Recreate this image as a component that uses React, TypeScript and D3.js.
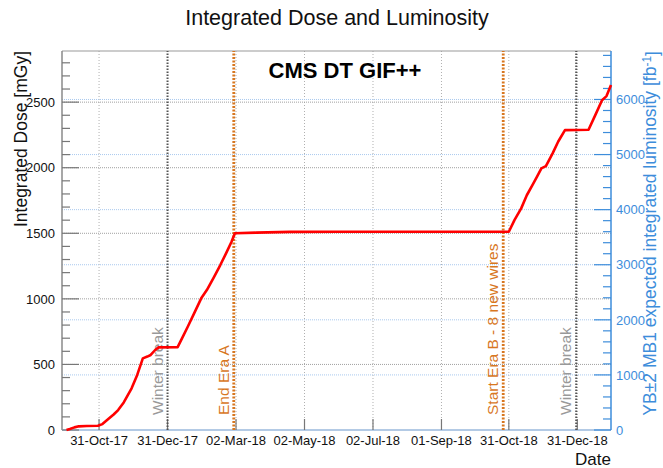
import React, { useEffect, useRef } from "react";
import * as d3 from "d3";

// --- Data
const doseDates = [
  "2017-10-02", "2017-10-05", "2017-10-09", "2017-10-13", "2017-10-20", "2017-10-30",
  "2017-11-03", "2017-11-09", "2017-11-13", "2017-11-17", "2017-11-22", "2017-11-29",
  "2017-12-04", "2017-12-09", "2017-12-13", "2017-12-16", "2017-12-20", "2017-12-23",
  "2018-01-09", "2018-01-13", "2018-01-18", "2018-01-24", "2018-01-30", "2018-02-04",
  "2018-02-10", "2018-02-16", "2018-02-21", "2018-02-26", "2018-03-01", "2018-03-20",
  "2018-04-19", "2018-06-01", "2018-10-31", "2018-11-05", "2018-11-11", "2018-11-16",
  "2018-11-21", "2018-11-25", "2018-11-29", "2018-12-03", "2018-12-09", "2018-12-14",
  "2018-12-20", "2019-01-10", "2019-01-16", "2019-01-22", "2019-01-26", "2019-01-30",
];
const doseValues = [
  0, 8, 20, 28, 30, 32,
  45, 89, 118, 152, 210, 318,
  420, 546, 560, 572, 610, 630,
  632, 700, 787, 895, 1004, 1067,
  1160, 1258, 1345, 1435, 1500, 1505,
  1511, 1512, 1512, 1600, 1690, 1790,
  1867, 1930, 1995, 2012, 2109, 2200,
  2287, 2290, 2401, 2515, 2546, 2630,
];

const xTickDates = [
  "2017-10-31", "2017-12-31", "2018-03-02", "2018-05-02",
  "2018-07-02", "2018-09-01", "2018-10-31", "2018-12-31",
];
const doseTicks = [0, 500, 1000, 1500, 2000, 2500];
const lumiTicks = [0, 1000, 2000, 3000, 4000, 5000, 6000];

const markerDates = ["2017-12-31", "2018-02-28", "2018-10-26", "2018-12-30"];
const markerLabels = ["Winter break", "End Era A", "Start Era B - 8 new wires", "Winter break"];
const markerKinds = ["break", "era", "era", "break"];

const W = 663;
const H = 468;
const FONT = "'Liberation Sans', Arial, Helvetica, sans-serif";
const BLUE = "#3d8ddb";
const ORANGE = "#d8771f";

const App: React.FC = () => {
  const ref = useRef<SVGSVGElement | null>(null);

  useEffect(() => {
    if (!ref.current) return;
    const parse = d3.utcParse("%Y-%m-%d");
    const fmt = d3.utcFormat("%d-%b-%y");

    const margin = { top: 51, right: 52, bottom: 38, left: 62 };
    const x0 = margin.left;
    const x1 = W - margin.right;
    const y0 = H - margin.bottom;
    const y1 = margin.top;

    const x = d3
      .scaleUtc()
      .domain([parse("2017-09-28")!, parse("2019-01-30")!])
      .range([x0, x1]);
    const yDose = d3.scaleLinear().domain([0, 2890]).range([y0, y1]);
    const yLumi = d3.scaleLinear().domain([0, 6880]).range([y0, y1]);

    const svg = d3.select(ref.current);
    svg.selectAll("*").remove();
    svg.attr("width", W).attr("height", H);

    svg.append("rect").attr("width", W).attr("height", H).attr("fill", "white");

    // --- Grid
    const grid = svg.append("g");
    grid
      .selectAll(".gx")
      .data(xTickDates.map((d) => parse(d)!))
      .join("line")
      .attr("x1", (d) => x(d))
      .attr("x2", (d) => x(d))
      .attr("y1", y0)
      .attr("y2", y1)
      .attr("stroke", "#b0b0b0")
      .attr("stroke-width", 1)
      .attr("stroke-dasharray", "1,2");
    grid
      .selectAll(".gy")
      .data(doseTicks.slice(1))
      .join("line")
      .attr("x1", x0)
      .attr("x2", x1)
      .attr("y1", (d) => yDose(d))
      .attr("y2", (d) => yDose(d))
      .attr("stroke", "#a0a0a0")
      .attr("stroke-width", 1)
      .attr("stroke-dasharray", "1,1");
    grid
      .selectAll(".gl")
      .data(lumiTicks.slice(1))
      .join("line")
      .attr("x1", x0)
      .attr("x2", x1)
      .attr("y1", (d) => yLumi(d))
      .attr("y2", (d) => yLumi(d))
      .attr("stroke", "#a9c9ee")
      .attr("stroke-width", 1)
      .attr("stroke-dasharray", "1,1");

    // --- Frame
    svg.append("line").attr("x1", x0).attr("x2", x1).attr("y1", y1).attr("y2", y1)
      .attr("stroke", "#9a9a9a").attr("stroke-width", 1.2);
    svg.append("line").attr("x1", x0).attr("x2", x0).attr("y1", y0).attr("y2", y1)
      .attr("stroke", "#8a8a8a").attr("stroke-width", 1.5);
    svg.append("line").attr("x1", x0).attr("x2", x1).attr("y1", y0).attr("y2", y0)
      .attr("stroke", "#9ab8dc").attr("stroke-width", 1.5);

    // --- Left axis ticks
    const left = svg.append("g");
    left
      .selectAll(".minor")
      .data(d3.range(0, 2890, 100))
      .join("line")
      .attr("x1", x0)
      .attr("x2", (d) => x0 + (d % 500 === 0 ? 17 : 8))
      .attr("y1", (d) => yDose(d))
      .attr("y2", (d) => yDose(d))
      .attr("stroke", "#777")
      .attr("stroke-width", 1.2);
    left
      .selectAll("text")
      .data(doseTicks)
      .join("text")
      .attr("x", x0 - 7)
      .attr("y", (d) => yDose(d))
      .attr("dy", "0.36em")
      .attr("text-anchor", "end")
      .style("font-family", FONT)
      .style("font-size", "13px")
      .style("fill", "#111")
      .text((d) => d);

    // --- Right axis
    const right = svg.append("g");
    right.append("line").attr("x1", x1).attr("x2", x1).attr("y1", y0).attr("y2", y1)
      .attr("stroke", BLUE).attr("stroke-width", 1.5);
    right
      .selectAll(".minor")
      .data(d3.range(0, 6880, 200))
      .join("line")
      .attr("x1", x1)
      .attr("x2", (d) => x1 - (d % 1000 === 0 ? 17 : 8))
      .attr("y1", (d) => yLumi(d))
      .attr("y2", (d) => yLumi(d))
      .attr("stroke", BLUE)
      .attr("stroke-width", 1.2);
    right
      .selectAll("text")
      .data(lumiTicks)
      .join("text")
      .attr("x", x1 + 5)
      .attr("y", (d) => yLumi(d))
      .attr("dy", "0.36em")
      .style("font-family", FONT)
      .style("font-size", "13px")
      .style("fill", BLUE)
      .text((d) => d);

    // --- Bottom axis
    const bottom = svg.append("g");
    bottom
      .selectAll("line")
      .data(xTickDates.map((d) => parse(d)!))
      .join("line")
      .attr("x1", (d) => x(d))
      .attr("x2", (d) => x(d))
      .attr("y1", y0)
      .attr("y2", y0 - 11)
      .attr("stroke", "#777")
      .attr("stroke-width", 1.2);
    bottom
      .selectAll("text")
      .data(xTickDates.map((d) => parse(d)!))
      .join("text")
      .attr("x", (d) => x(d))
      .attr("y", y0 + 15)
      .attr("text-anchor", "middle")
      .style("font-family", FONT)
      .style("font-size", "13px")
      .style("fill", "#111")
      .text((d) => fmt(d));

    // --- Marker lines
    const markers = svg
      .selectAll(".marker")
      .data(markerDates.map((d, i) => ({ date: parse(d)!, label: markerLabels[i], kind: markerKinds[i] })))
      .join("g")
      .attr("class", "marker");
    markers
      .append("line")
      .attr("x1", (d) => x(d.date))
      .attr("x2", (d) => x(d.date))
      .attr("y1", y0)
      .attr("y2", y1)
      .attr("stroke", (d) => (d.kind === "era" ? ORANGE : "#555"))
      .attr("stroke-width", (d) => (d.kind === "era" ? 2.8 : 2))
      .attr("stroke-dasharray", (d) => (d.kind === "era" ? "2,1.5" : "1.5,1.5"));
    markers
      .append("text")
      .attr("transform", (d) => `translate(${x(d.date) - 5},${y0 - 15}) rotate(-90)`)
      .style("font-family", FONT)
      .style("font-size", "15.5px")
      .style("fill", (d) => (d.kind === "era" ? ORANGE : "#999"))
      .text((d) => d.label);

    // --- Dose curve
    const pts = doseDates.map((d, i) => [parse(d)!, doseValues[i]] as [Date, number]);
    const line = d3
      .line<[Date, number]>()
      .x((d) => x(d[0]))
      .y((d) => yDose(d[1]));
    svg
      .append("path")
      .datum(pts)
      .attr("d", line)
      .attr("fill", "none")
      .attr("stroke", "#ff0000")
      .attr("stroke-width", 2.6)
      .attr("stroke-linejoin", "round");

    // --- Titles
    svg
      .append("text")
      .attr("x", 337)
      .attr("y", 25)
      .attr("text-anchor", "middle")
      .style("font-family", FONT)
      .style("font-size", "21.5px")
      .style("fill", "#111")
      .text("Integrated Dose and Luminosity");

    svg
      .append("text")
      .attr("x", 345)
      .attr("y", 78)
      .attr("text-anchor", "middle")
      .style("font-family", FONT)
      .style("font-size", "22px")
      .style("font-weight", "bold")
      .style("fill", "#000")
      .text("CMS DT GIF++");

    svg
      .append("text")
      .attr("transform", `translate(27,${y1}) rotate(-90)`)
      .attr("text-anchor", "end")
      .style("font-family", FONT)
      .style("font-size", "17.5px")
      .style("fill", "#111")
      .text("Integrated Dose [mGy]");

    const rt = svg
      .append("text")
      .attr("transform", `translate(656,${y1}) rotate(-90)`)
      .attr("text-anchor", "end")
      .style("font-family", FONT)
      .style("font-size", "17.5px")
      .style("fill", BLUE);
    rt.append("tspan").text("YB\u00B12 MB1 expected integrated luminosity [fb");
    rt.append("tspan").attr("dy", "-0.45em").style("font-size", "12px").text("-1");
    rt.append("tspan").attr("dy", "0.45em").text("]");

    svg
      .append("text")
      .attr("x", x1)
      .attr("y", 465)
      .attr("text-anchor", "end")
      .style("font-family", FONT)
      .style("font-size", "17px")
      .style("fill", "#111")
      .text("Date");

    return () => {
      d3.select(ref.current).selectAll("*").remove();
    };
  }, []);

  return <svg ref={ref} style={{ position: "absolute", left: 0, top: 0 }}></svg>;
};

export default App;
